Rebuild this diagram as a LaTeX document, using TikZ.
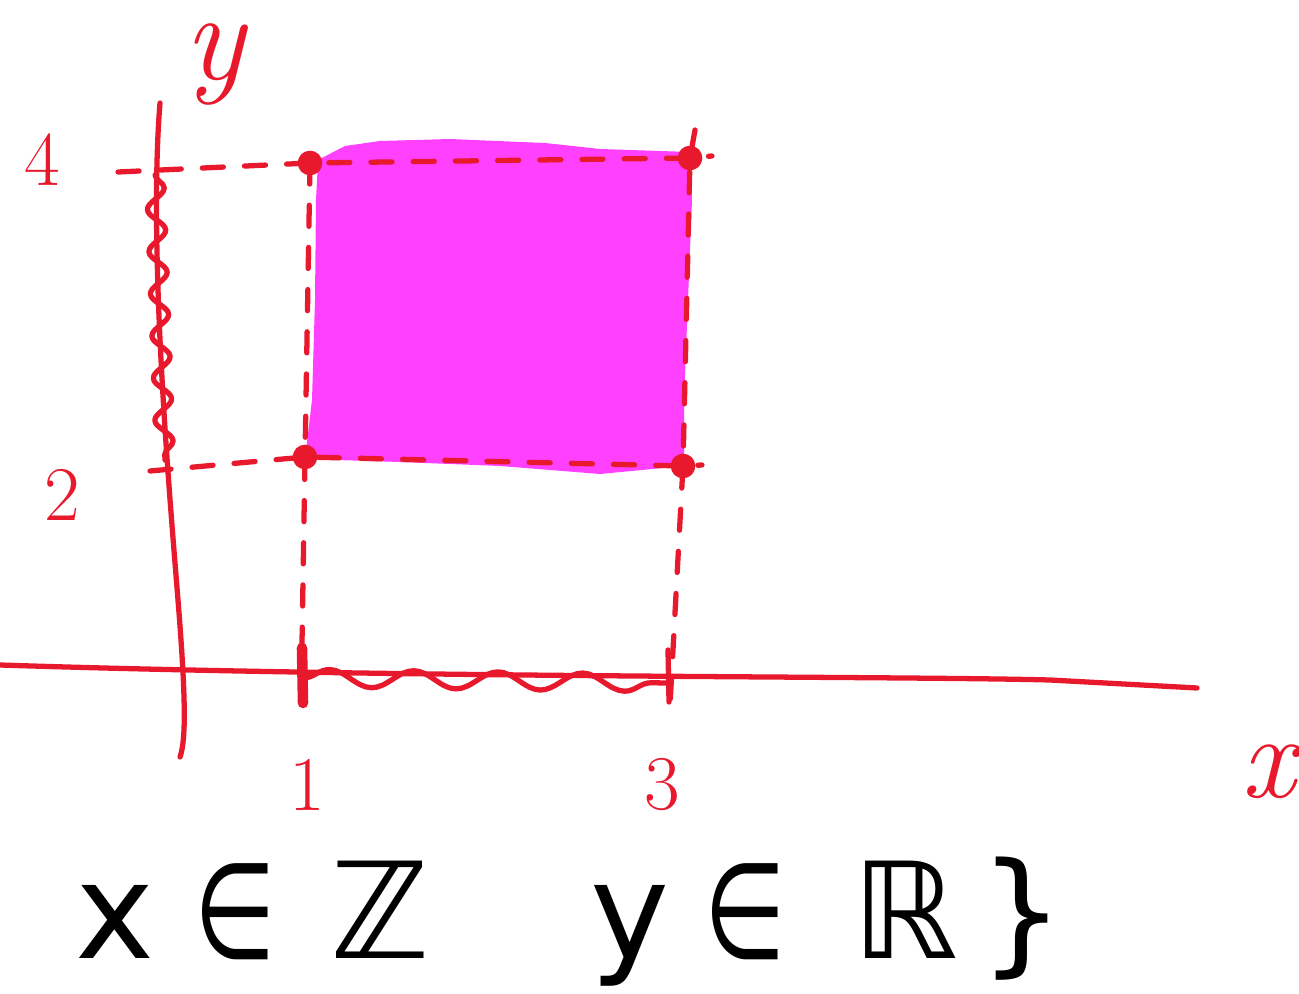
\documentclass[tikz,border=0pt]{standalone}
\usepackage{fontspec}
\usetikzlibrary{decorations.pathmorphing}
\definecolor{pen}{HTML}{E8192C}
\definecolor{fillm}{HTML}{FF40FF}
\newfontfamily\handfont{DejaVu Sans}
\begin{document}
\begin{tikzpicture}[x=0.01cm,y=-0.01cm,
  axisline/.style={pen, line width=1.5pt, line cap=round, line join=round},
  guide/.style={axisline, dash pattern=on 6pt off 6pt},
  wiggle/.style={axisline, decorate, decoration={snake, amplitude=#1, segment length=12pt}},
  cornerdot/.style={circle, fill=pen, inner sep=0pt, minimum size=7pt},
  lbl/.style={text=pen, font=\fontsize{22}{22}\selectfont},
  mathtxt/.style={text=black, anchor=base, inner sep=0pt, font=\handfont\fontsize{38}{38}\selectfont}]
\useasboundingbox (0,0) rectangle (1299,994);
\clip (0,0) rectangle (1299,994);

% filled region
\fill[fillm] (318,160) -- (345,146) -- (380,141) -- (450,139) -- (545,143) -- (600,149)
  -- (690,152) -- (692,200) -- (688,300) -- (684,400) -- (684,466) -- (600,474)
  -- (500,466) -- (400,462) -- (305,459) -- (312,400) -- (315,300) -- (316,200) -- cycle;

% named points
\coordinate (xa0) at (0,665);
\coordinate (xa1) at (1197,688);
\coordinate (ya0) at (160,103);
\coordinate (ya1) at (180,757);
\coordinate (t4) at (118,172);
\coordinate (t2) at (150,471);
\coordinate (c14) at (310,163);
\coordinate (c34) at (690,158);
\coordinate (c12) at (305,457);
\coordinate (c32) at (683,466);
\coordinate (e4) at (712,156);
\coordinate (e2) at (702,465);
\coordinate (b1) at (301,705);
\coordinate (b3) at (670,705);
\coordinate (top3) at (695,130);

% axes
\draw[axisline] (xa0) .. controls (400,678) and (900,676) .. (1050,680) -- (xa1);
\draw[axisline] (ya0) .. controls (148,250) and (170,500) .. (178,600) .. controls (186,700) and (186,740) .. (ya1);

% squiggles along axes
\draw[wiggle=2.5pt] (155,175) -- (165,460);
\draw[axisline, decorate, decoration={snake, amplitude=2.5pt, segment length=24pt}] (303,678) -- (668,683);

% dashed guides
\draw[guide] (t4) -- (c14) -- (c34) -- (e4);
\draw[guide] (t2) -- (c12) -- (c32) -- (e2);
\draw[guide] (c14) -- (c12) -- (b1);
\draw[guide] (top3) -- (c34) -- (c32) -- (b3);
\draw[axisline, line width=3pt] (302,648) -- (303,703);
\draw[axisline] (668,650) -- (669,702);

% corner dots
\node[cornerdot] (d14) at (c14) {};
\node[cornerdot] (d34) at (c34) {};
\node[cornerdot] (d12) at (c12) {};
\node[cornerdot] (d32) at (c32) {};

% labels
\node[lbl] (l4) at (42,160) {4};
\node[lbl] (l2) at (62,495) {2};
\node[lbl] (l1) at (307,785) {1};
\node[lbl] (l3) at (662,785) {3};
\node[text=pen, font=\fontsize{34}{34}\selectfont\itshape] (lx) at (1268,772) {x};
\node[text=pen, inner sep=0pt, font=\fontsize{36}{36}\selectfont\itshape] (ly) at (215,64) {y};

% bottom text
\node[mathtxt] (m1) at (115,958) {x};
\node[mathtxt, xscale=0.7] (m2) at (235,958) {∈};
\node[mathtxt] (m3) at (380,958) {ℤ};
\node[mathtxt] (m4) at (630,958) {y};
\node[mathtxt, xscale=0.7] (m5) at (745,958) {∈};
\node[mathtxt] (m6) at (905,958) {ℝ};
\node[mathtxt] (m7) at (1022,958) {\}};
\end{tikzpicture}
\end{document}
